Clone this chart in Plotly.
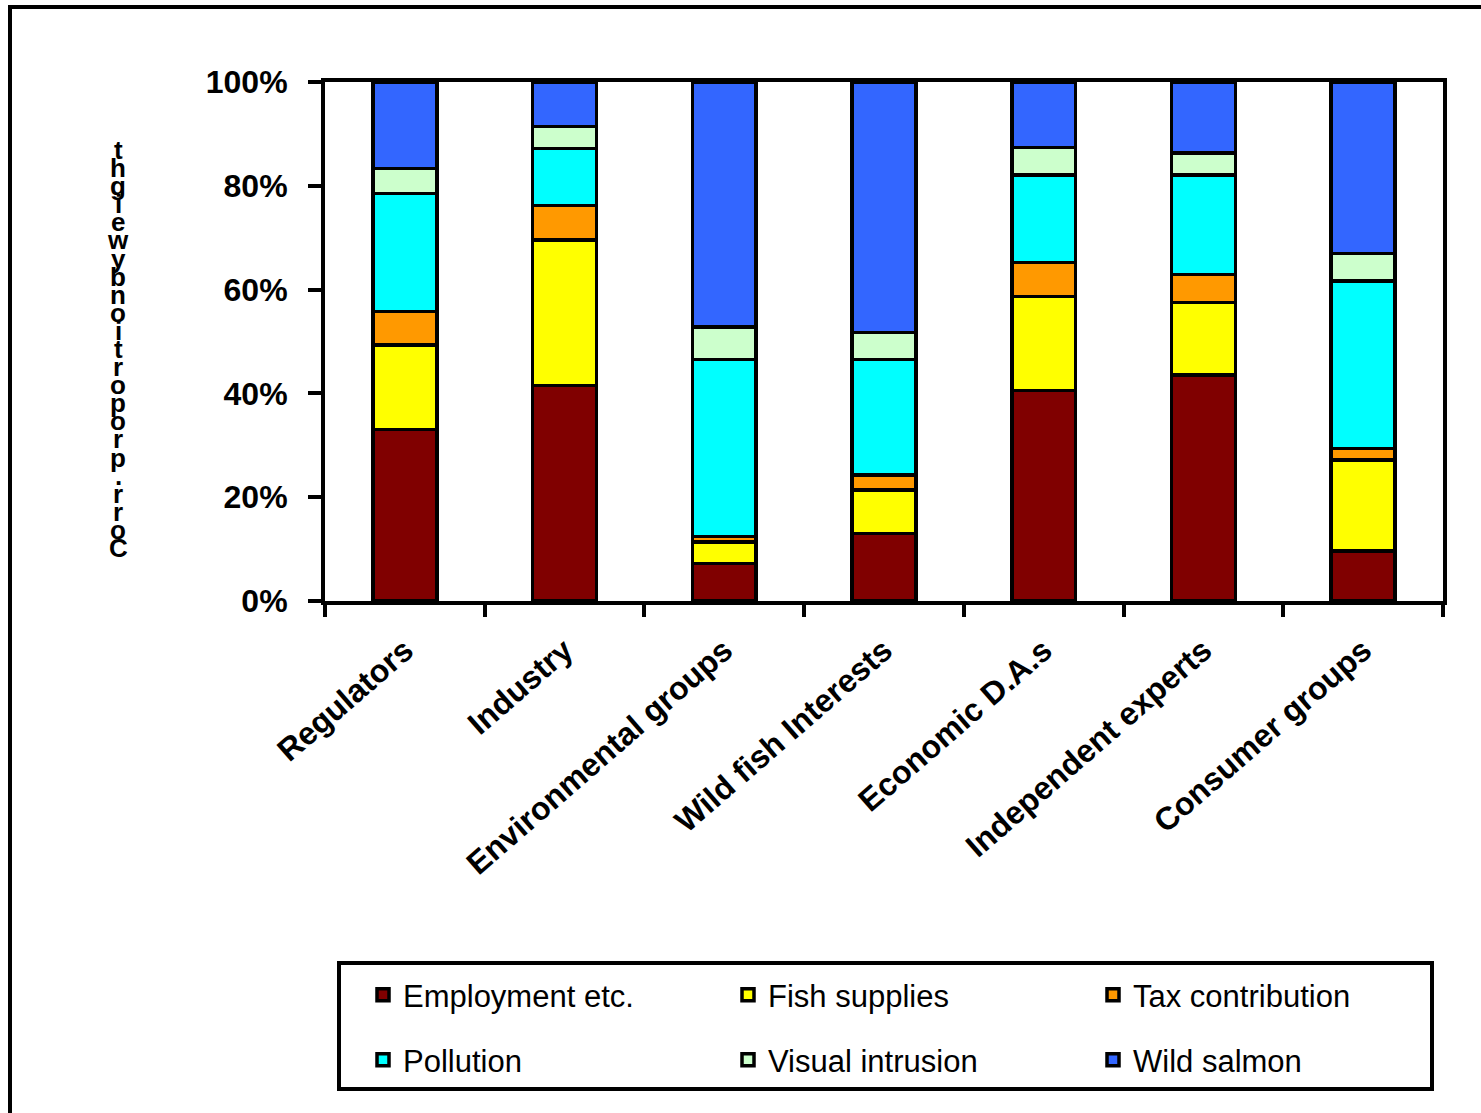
import plotly.graph_objects as go

# Stakeholder groups and the share (%) of weight given to each factor
groups = ["Regulators", "Industry", "Environmental groups", "Wild fish Interests",
          "Economic D.A.s", "Independent experts", "Consumer groups"]
employment = [33.0, 41.5, 7.2, 13.0, 40.6, 43.5, 9.6]
fish_supplies = [16.3, 28.1, 4.2, 8.4, 18.1, 14.0, 17.6]
tax_contribution = [6.5, 6.6, 1.0, 2.9, 6.5, 5.4, 2.2]
pollution = [22.7, 11.0, 34.1, 22.2, 16.9, 19.2, 32.3]
visual_intrusion = [4.8, 4.2, 6.3, 5.2, 5.3, 4.2, 5.3]
wild_salmon = [16.7, 8.6, 47.2, 48.3, 12.6, 13.7, 33.0]

y_ticks = [0, 20, 40, 60, 80, 100]
y_title = "Corr. proportion by weight"

series = [
    ("Employment etc.", employment, "#800000", "legend"),
    ("Fish supplies", fish_supplies, "#FFFF00", "legend"),
    ("Tax contribution", tax_contribution, "#FF9900", "legend"),
    ("Pollution", pollution, "#00FFFF", "legend2"),
    ("Visual intrusion", visual_intrusion, "#CCFFCC", "legend2"),
    ("Wild salmon", wild_salmon, "#3366FF", "legend2"),
]

W, H = 1481, 1113
L, R, T, B = 325, 1443, 82, 601  # plot-area edges in pixels

def px_x(p):
    return (p - L) / (R - L)

def px_y(p):
    return (B - p) / (B - T)

fig = go.Figure()
for name, vals, color, leg in series:
    fig.add_trace(go.Bar(
        x=groups, y=vals, name=name,
        marker=dict(color=color, line=dict(color="black", width=3.5)),
        legend=leg,
    ))

font_bold = "Liberation Sans"

annotations = []
# vertical stacked-letter axis title, read bottom to top (spaces take no slot)
glyphs = [ch for ch in y_title if ch != " "]
n = len(glyphs)
top_c, bot_c = 150, 548
for i, ch in enumerate(glyphs):
    yy = bot_c - (bot_c - top_c) * i / (n - 1)
    annotations.append(dict(
        text=f"<b>{ch}</b>", x=px_x(118), y=px_y(yy), xref="paper", yref="paper",
        showarrow=False, xanchor="center", yanchor="middle",
        font=dict(family=font_bold, size=26, color="black"),
    ))

legend_common = dict(
    orientation="h", xanchor="left", yanchor="middle",
    xref="container", yref="container",
    font=dict(family="Liberation Sans", size=31, color="black"),
    bgcolor="rgba(0,0,0,0)", borderwidth=0,
    entrywidth=320, entrywidthmode="pixels", traceorder="normal",
)

fig.update_layout(
    width=W, height=H,
    margin=dict(l=L, r=W - R, t=T, b=H - B),
    paper_bgcolor="white", plot_bgcolor="white",
    barmode="stack", bargap=0.6,
    showlegend=True,
    legend=dict(x=363 / W, y=1 - 995 / H, **legend_common),
    legend2=dict(x=363 / W, y=1 - 1060 / H, **legend_common),
    xaxis=dict(
        showline=True, linecolor="black", linewidth=4, mirror=True,
        ticks="outside", tickson="boundaries", ticklen=12, tickwidth=4, tickcolor="black",
        tickangle=-41, showgrid=False, ticklabelstandoff=14,
        tickfont=dict(family=font_bold, size=32, color="black", weight="bold"),
    ),
    yaxis=dict(
        range=[0, 100], tickvals=y_ticks, ticktext=[f"{v}%" for v in y_ticks],
        showline=True, linecolor="black", linewidth=4, mirror=True,
        ticks="outside", ticklen=13, tickwidth=4, tickcolor="black",
        ticklabelstandoff=14, showgrid=False, zeroline=False,
        tickfont=dict(family=font_bold, size=32, color="black", weight="bold"),
    ),
    annotations=annotations,
    shapes=[
        # outer chart frame
        dict(type="rect", xref="paper", yref="paper",
             x0=px_x(10), x1=px_x(1500), y0=px_y(1130), y1=px_y(7),
             line=dict(color="black", width=4), fillcolor="rgba(0,0,0,0)", layer="below"),
        # legend box
        dict(type="rect", xref="paper", yref="paper",
             x0=px_x(339), x1=px_x(1432), y0=px_y(1089), y1=px_y(963),
             line=dict(color="black", width=4), fillcolor="rgba(0,0,0,0)"),
    ],
)

fig.write_html("out.html")
